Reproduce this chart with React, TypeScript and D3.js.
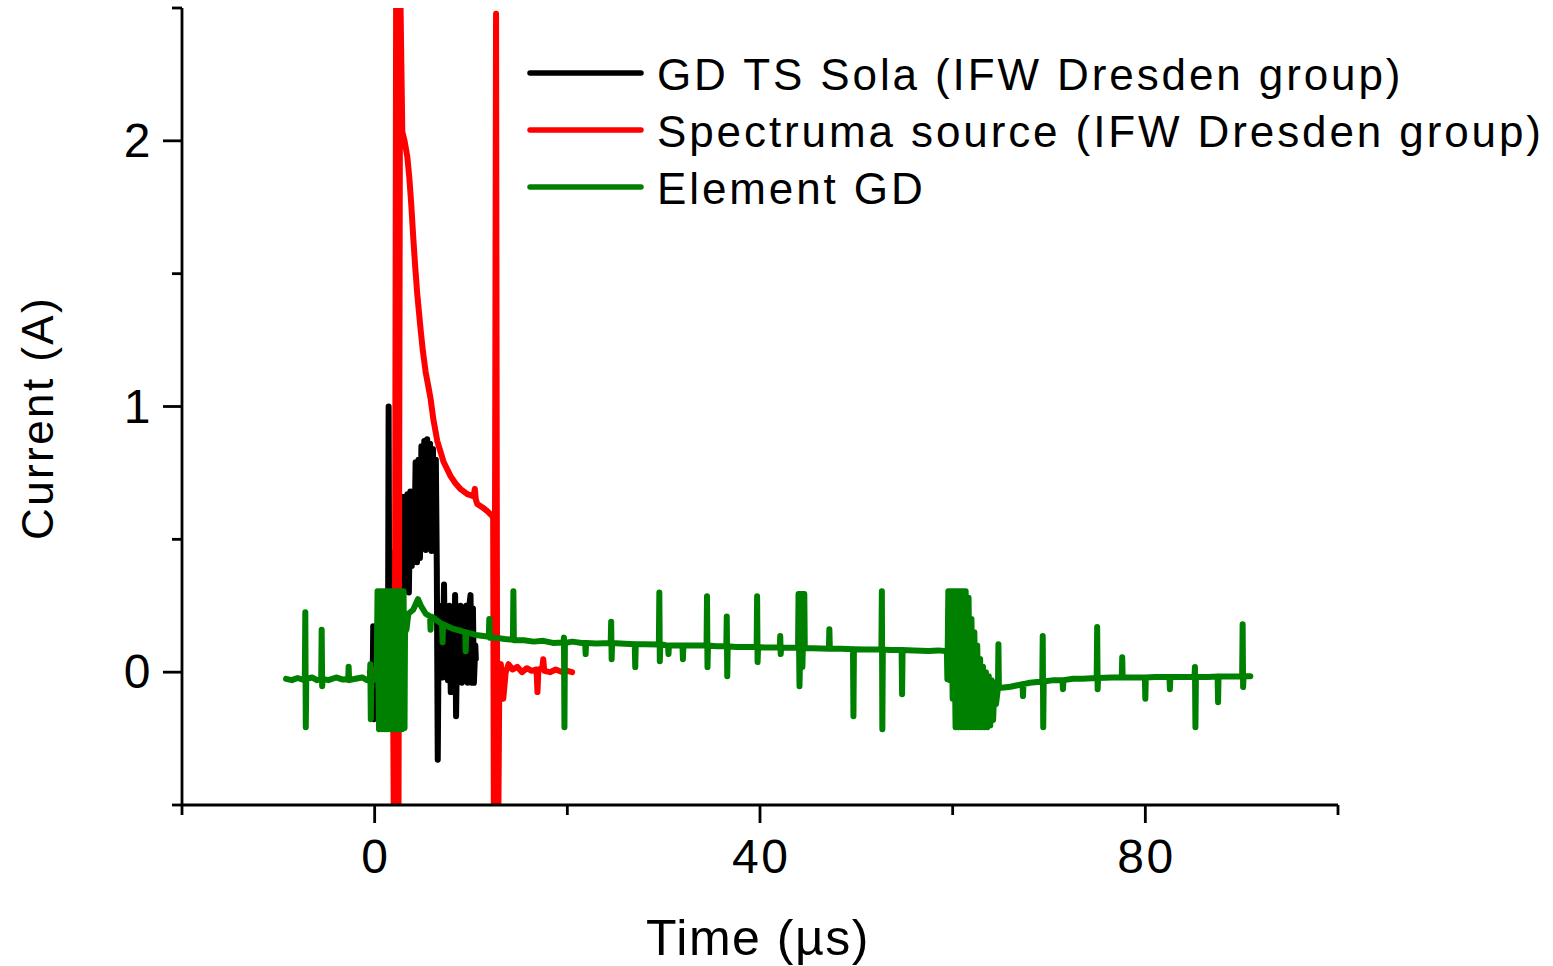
import React from "react";
import * as d3 from "d3";

type Pt = [number, number];

// Time (µs), Current (A)
const gdTsSola: Pt[] = [
  [-0.2, 0.0], [-0.15, 0.173], [-0.1, -0.177], [0.0, 0.15], [0.1, -0.17], [0.2, 0.1], [0.3, -0.05],
  [0.6, 0.0], [1.0, 0.1], [1.4, 0.3], [1.45, 1.0], [1.5, 0.3], [1.7, 0.45], [1.8, 0.2], [2.0, 0.3],
  [2.4, 0.3], [2.8, 0.66], [2.95, 0.3], [3.1, 0.66], [3.25, 0.35], [3.4, 0.67], [3.55, 0.3],
  [3.7, 0.68], [3.85, 0.4], [4.0, 0.68], [4.1, 0.414], [4.25, 0.79], [4.4, 0.414], [4.55, 0.8],
  [4.7, 0.43], [4.85, 0.85], [5.0, 0.47], [5.15, 0.87], [5.3, 0.46], [5.45, 0.877], [5.6, 0.47],
  [5.75, 0.86], [5.9, 0.456], [6.05, 0.84], [6.2, 0.47], [6.35, 0.8], [6.45, 0.4], [6.55, -0.33],
  [6.65, 0.2], [6.8, 0.1], [6.95, 0.25], [7.05, -0.02], [7.2, 0.33], [7.3, 0.0], [7.45, 0.24],
  [7.6, -0.03], [7.75, 0.25], [7.9, -0.075], [8.05, 0.24], [8.2, -0.04], [8.35, 0.29], [8.45, -0.166],
  [8.6, 0.24], [8.75, -0.03], [8.9, 0.25], [9.05, -0.04], [9.2, 0.24], [9.35, -0.03], [9.5, 0.25],
  [9.65, -0.04], [9.8, 0.24], [9.95, 0.29], [10.05, -0.04], [10.2, 0.24], [10.3, -0.04], [10.45, 0.1],
  [10.5, 0.05],
];

const spectrumaSource: Pt[] = [
  [-0.5, 0.0], [0.0, 0.01], [0.5, 0.0], [1.0, 0.01], [1.5, 0.0], [1.9, 0.0],
  [2.05, -1.0], [2.25, 3.0], [2.45, -1.0], [2.65, 2.6], [2.87, 2.034], [3.1, 2.0], [3.39, 1.94],
  [3.6, 1.86], [3.8, 1.76], [4.0, 1.64], [4.2, 1.53], [4.43, 1.42], [4.77, 1.29], [5.0, 1.21],
  [5.29, 1.13], [5.6, 1.07], [5.81, 1.028], [6.1, 0.95], [6.5, 0.87], [7.16, 0.791], [7.88, 0.738],
  [8.4, 0.71], [8.92, 0.689], [9.62, 0.67], [10.17, 0.663], [10.3, 0.67], [10.4, 0.69],
  [10.5, 0.65], [10.65, 0.633], [11.2, 0.62], [11.69, 0.606], [12.21, 0.588],
  [12.3, 0.58], [12.4, -1.0], [12.6, 2.478], [12.75, -1.0], [12.95, 0.02], [13.1, 0.03],
  [13.35, -0.1], [13.6, 0.0], [13.9, 0.03], [14.3, 0.01], [14.8, 0.02], [15.3, 0.0], [15.8, 0.015],
  [16.3, 0.005], [16.8, 0.01], [16.9, -0.075], [17.0, 0.01], [17.4, 0.015], [17.5, 0.049],
  [17.6, 0.005], [18.2, 0.0], [18.8, 0.01], [19.5, 0.0], [20.0, 0.005], [20.5, 0.0],
];

const elementGD: Pt[] = [
  [-9.2, -0.025], [-8.6, -0.03], [-8.0, -0.022], [-7.3, -0.03],
  [-7.25, -0.025], [-7.2, 0.226], [-7.15, -0.207], [-7.1, -0.025], [-6.5, -0.02], [-6.0, -0.03],
  [-5.55, -0.025], [-5.5, 0.16], [-5.45, -0.053], [-5.4, -0.025], [-4.8, -0.03], [-4.0, -0.02],
  [-3.3, -0.028], [-2.75, -0.025], [-2.7, 0.02], [-2.65, -0.03], [-2.0, -0.025], [-1.3, -0.02],
  [-0.8, -0.03], [-0.5, -0.025], [-0.45, 0.03], [-0.4, -0.177], [-0.35, -0.02], [0.0, -0.025],
  [0.2, -0.03],
  [0.3, 0.305], [0.45, -0.215], [0.6, 0.305], [0.75, -0.215], [0.9, 0.305], [1.05, -0.215],
  [1.2, 0.305], [1.35, -0.215], [1.5, 0.305], [1.65, -0.215], [1.8, 0.305], [1.95, -0.215],
  [2.1, 0.305], [2.25, -0.215], [2.4, 0.305], [2.55, -0.215], [2.7, 0.305], [2.85, -0.215],
  [3.0, 0.305], [3.1, -0.21], [3.15, 0.15],
  [3.3, 0.16], [3.5, 0.22], [4.0, 0.235], [4.5, 0.275], [4.8, 0.25], [5.3, 0.22], [5.75, 0.21],
  [5.8, 0.16], [5.85, 0.21], [6.3, 0.2], [7.0, 0.18], [7.05, 0.113], [7.1, 0.18], [8.0, 0.165],
  [9.0, 0.155], [9.4, 0.15], [9.45, 0.079], [9.5, 0.15], [10.5, 0.14], [11.5, 0.135],
  [11.85, 0.133], [11.9, 0.2], [11.95, 0.13], [12.5, 0.13], [13.5, 0.125], [14.35, 0.122],
  [14.4, 0.305], [14.45, 0.12], [15.5, 0.12], [16.5, 0.115], [17.5, 0.118], [18.5, 0.11],
  [19.6, 0.112], [19.65, 0.13], [19.7, -0.207], [19.75, 0.11], [20.5, 0.115], [21.5, 0.11],
  [21.85, 0.11], [21.9, 0.068], [21.95, 0.11], [23.0, 0.108], [24.5, 0.11], [24.55, 0.19],
  [24.6, 0.049], [24.65, 0.11], [25.5, 0.108], [27.0, 0.105], [27.05, 0.019], [27.1, 0.105],
  [28.0, 0.105], [29.5, 0.104], [29.55, 0.3], [29.6, 0.041], [29.65, 0.105], [30.45, 0.1],
  [30.5, 0.068], [30.55, 0.1], [31.95, 0.1], [32.0, 0.049], [32.05, 0.1], [33.0, 0.1],
  [34.45, 0.1], [34.5, 0.286], [34.55, 0.019], [34.6, 0.1], [35.5, 0.098], [36.5, 0.098],
  [36.55, 0.21], [36.6, -0.015], [36.65, 0.098], [37.5, 0.095], [39.65, 0.095], [39.7, 0.286],
  [39.75, 0.038], [39.8, 0.095], [40.5, 0.093], [42.05, 0.093], [42.1, 0.136], [42.15, 0.068],
  [42.2, 0.093], [43.5, 0.092], [43.95, 0.092], [44.0, 0.294], [44.1, -0.053], [44.3, 0.294],
  [44.4, 0.02], [44.6, 0.294], [44.65, 0.09], [45.5, 0.09], [47.15, 0.088], [47.2, 0.162],
  [47.25, 0.088], [48.5, 0.088], [49.65, 0.086], [49.7, -0.166], [49.75, 0.086], [51.0, 0.085],
  [52.6, 0.085], [52.65, 0.305], [52.7, -0.215], [52.75, 0.085], [53.5, 0.083], [54.7, 0.083],
  [54.75, -0.083], [54.8, 0.083], [56.0, 0.082], [57.5, 0.08], [58.5, 0.082], [59.2, 0.08],
  [59.4, 0.08], [59.45, -0.026],
  [59.55, 0.305], [59.7, -0.03], [59.85, 0.305], [60.0, -0.1], [60.15, 0.305], [60.3, -0.207],
  [60.45, 0.305], [60.6, -0.207], [60.75, 0.305], [60.9, -0.207], [61.05, 0.305], [61.2, -0.207],
  [61.35, 0.305], [61.5, -0.207], [61.65, 0.28], [61.8, -0.207], [61.95, 0.2], [62.1, -0.207],
  [62.25, 0.15], [62.4, -0.207], [62.55, 0.1], [62.7, -0.207], [62.85, 0.05], [63.0, -0.207],
  [63.15, 0.02], [63.3, -0.207], [63.45, 0.0], [63.6, -0.207], [63.75, -0.015], [63.9, -0.2],
  [64.05, -0.03], [64.2, -0.18], [64.35, -0.04], [64.5, -0.12], [64.7, -0.06],
  [64.75, 0.105], [64.8, -0.06], [65.3, -0.058], [66.0, -0.055],
  [67.25, -0.045], [67.3, -0.09], [67.35, -0.045], [68.0, -0.04],
  [69.3, -0.035], [69.35, 0.136], [69.4, -0.207], [69.45, -0.035], [70.5, -0.03],
  [71.4, -0.03], [71.45, -0.064], [71.5, -0.03], [72.5, -0.025], [73.5, -0.025],
  [74.95, -0.022], [75.0, 0.17], [75.05, -0.064], [75.1, -0.022], [76.5, -0.02],
  [77.55, -0.02], [77.6, 0.056], [77.65, -0.02], [78.5, -0.02], [79.95, -0.02], [80.0, -0.1],
  [80.05, -0.02], [81.0, -0.018], [82.5, -0.018], [82.55, -0.064], [82.6, -0.018], [84.0, -0.018],
  [85.1, -0.018], [85.15, 0.019], [85.2, -0.207], [85.25, -0.018], [86.5, -0.018],
  [87.5, -0.016], [87.55, -0.113], [87.6, -0.016], [89.0, -0.016],
  [90.05, -0.015], [90.1, 0.18], [90.15, -0.056], [90.2, -0.015], [90.9, -0.015],
];

const seriesNames = [
  "GD TS Sola (IFW Dresden group)",
  "Spectruma source (IFW Dresden group)",
  "Element GD",
];
const seriesColors = ["#000000", "#ff0000", "#008000"];

const xMajorTicks = [0, 40, 80];
const xMinorTicks = [-20, 20, 60, 100];
const yMajorTicks = [0, 1, 2];
const yMinorTicks = [-0.5, 0.5, 1.5, 2.5];

const xTitle = "Time (\u00b5s)";
const yTitle = "Current (A)";

const FONT = "'Liberation Sans', Arial, Helvetica, sans-serif";

export default function App() {
  const x = d3.scaleLinear().domain([-20, 100]).range([182, 1338]);
  const y = d3.scaleLinear().domain([-0.5, 2.5]).range([805, 8]);
  const line = d3
    .line<Pt>()
    .x((d) => x(d[0]))
    .y((d) => y(d[1]));

  const series = [gdTsSola, spectrumaSource, elementGD];
  const [x0, x1] = x.range();
  const [yb, yt] = y.range();
  const axisW = 2.8;

  return (
    <svg
      width={1553}
      height={966}
      style={{ position: "absolute", left: 0, top: 0, background: "#fff" }}
    >
      <defs>
        <clipPath id="plotClip">
          <rect x={x0} y={yt} width={x1 - x0} height={yb - yt} />
        </clipPath>
      </defs>
      <rect x={0} y={0} width={1553} height={966} fill="#fff" />

      <g clipPath="url(#plotClip)">
        {series.map((s, i) => (
          <path
            key={i}
            d={line(s) || ""}
            fill="none"
            stroke={seriesColors[i]}
            strokeWidth={6}
            strokeLinejoin="round"
            strokeLinecap="round"
          />
        ))}
      </g>

      {/* axes */}
      <g stroke="#000" strokeWidth={axisW} fill="none">
        <line x1={x0} y1={yt} x2={x0} y2={yb} />
        <line x1={x0} y1={yb} x2={x1} y2={yb} />
        {yMajorTicks.map((t) => (
          <line key={"ym" + t} x1={x0 - 19} x2={x0} y1={y(t)} y2={y(t)} />
        ))}
        {yMinorTicks.map((t) => (
          <line key={"yn" + t} x1={x0 - 10} x2={x0} y1={y(t)} y2={y(t)} />
        ))}
        {xMajorTicks.map((t) => (
          <line key={"xm" + t} x1={x(t)} x2={x(t)} y1={yb} y2={yb + 18} />
        ))}
        {xMinorTicks.map((t) => (
          <line key={"xn" + t} x1={x(t)} x2={x(t)} y1={yb} y2={yb + 10} />
        ))}
      </g>

      <g fontFamily={FONT} fontSize={48} fill="#000" letterSpacing={2.5}>
        {xMajorTicks.map((t) => (
          <text key={"xl" + t} x={x(t) + 1.2} y={873} textAnchor="middle">
            {t}
          </text>
        ))}
        {yMajorTicks.map((t) => (
          <text key={"yl" + t} x={153} y={y(t) + 16} textAnchor="end">
            {t}
          </text>
        ))}
      </g>

      <text
        x={758}
        y={955}
        textAnchor="middle"
        fontFamily={FONT}
        fontSize={50}
        letterSpacing={1.5}
      >
        {xTitle}
      </text>
      <text
        transform="translate(53,418) rotate(-90)"
        textAnchor="middle"
        fontFamily={FONT}
        fontSize={44}
        letterSpacing={2.4}
      >
        {yTitle}
      </text>

      {/* legend */}
      <g>
        {seriesNames.map((name, i) => {
          const ly = 73 + i * 57;
          return (
            <g key={name}>
              <line
                x1={530}
                x2={641}
                y1={ly}
                y2={ly}
                stroke={seriesColors[i]}
                strokeWidth={5.5}
                strokeLinecap="round"
              />
              <text
                x={657}
                y={ly + 17}
                fontFamily={FONT}
                fontSize={44}
                letterSpacing={2.9}
              >
                {name}
              </text>
            </g>
          );
        })}
      </g>
    </svg>
  );
}
